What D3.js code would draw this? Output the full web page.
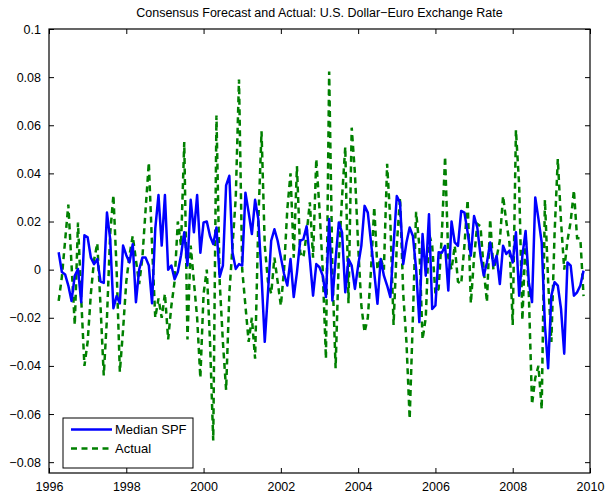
<!DOCTYPE html>
<html>
<head>
<meta charset="utf-8">
<script src="https://cdn.jsdelivr.net/npm/d3@7"></script>
<style>
  body { margin: 0; background: #fff; }
  svg text { font-family: "Liberation Sans", Arial, Helvetica, sans-serif; }
</style>
</head>
<body>
<svg id="chart"></svg>
<script>
// monthly observations, first one is April 1996
var startYear = 1996, startMonth = 4;

var spf = [
  0.0072, -0.001, -0.002, -0.0066, -0.013, -0.0025, 0.0003, -0.0135, 0.0143, 0.0134,
  0.005, 0.0023, 0.0044, -0.005, -0.0055, 0.0237, 0.0127, -0.016, -0.011, -0.014,
  0.01, 0.006, 0.003, 0.0106, -0.0135, 0.0, 0.005, 0.005, 0.0017, -0.014,
  0.017, 0.031, 0.01, 0.031, 0.0, 0.0017, -0.004, -0.001, 0.006, 0.0155,
  0.0017, 0.029, 0.0155, 0.031, 0.007, 0.0196, 0.020, 0.014, 0.0106, 0.0175,
  -0.003, 0.0017, 0.035, 0.039, 0.007, 0.0003, 0.0023, 0.0017, 0.032, 0.0237,
  0.0148, 0.029, 0.021, -0.0025, -0.030, -0.0094, 0.012, 0.0168, 0.012, 0.0051,
  -0.0018, -0.0066, 0.0044, -0.0114, -0.0011, 0.012, 0.0127, 0.018, 0.0044, -0.0108,
  0.0023, 0.001, -0.0025, -0.0114, 0.021, -0.0128, 0.0044, 0.0196, 0.0155, -0.0094,
  0.0044, 0.0017, -0.008, 0.0017, 0.01, 0.0265, 0.0237, 0.0113, -0.0011, -0.0142,
  0.0044, -0.0025, -0.0066, -0.0114, 0.01, 0.0306, 0.0279, 0.0023, 0.0113, 0.0175,
  0.014, 0.0003, -0.0218, 0.0148, -0.0025, 0.023, -0.0163, -0.0149, 0.0072, 0.007,
  0.0099, -0.0087, 0.020, 0.0113, 0.0099, 0.0244, 0.0237, 0.0155, 0.0058, 0.0223,
  0.0175, 0.0058, -0.0025, 0.003, 0.0113, 0.0017, 0.0058, -0.006, 0.0099, 0.0065,
  0.0079, 0.003, 0.0155, -0.0108, 0.0058, 0.0161, -0.0052, -0.0135, 0.030, 0.021,
  0.0113, -0.0232, -0.041, -0.0108, -0.0052, -0.0066, -0.0163, -0.0349, 0.003, 0.0017,
  -0.0108, -0.0094, -0.0066, -0.0004
];

var actual = [
  -0.013, -0.003, 0.012, 0.027, 0.002, -0.023, 0.0196, -0.012, -0.040, -0.030,
  -0.010, 0.004, 0.011, -0.015, -0.044, -0.020, 0.015, 0.031, 0.0, -0.0425,
  -0.025, -0.005, 0.006, 0.014, 0.004, -0.006, 0.005, 0.025, 0.0445, 0.010,
  -0.020, -0.012, -0.020, -0.010, -0.029, -0.015, -0.005, 0.020, 0.010, 0.053,
  -0.029, 0.010, -0.005, -0.020, -0.045, -0.010, 0.0, -0.030, -0.071, 0.064,
  -0.005, -0.030, -0.050, -0.010, 0.010, 0.030, 0.079, 0.0, -0.015, -0.030,
  -0.020, -0.037, 0.020, 0.0575, 0.010, -0.005, -0.010, 0.005, -0.005, -0.015,
  0.0, 0.025, 0.040, 0.005, 0.043, 0.007, 0.005, 0.015, 0.028, 0.005,
  0.046, 0.025, 0.0, -0.037, 0.0823, 0.0, -0.041, 0.005, 0.030, 0.051,
  -0.014, 0.059, 0.040, 0.010, -0.015, -0.026, -0.020, 0.0, 0.026, 0.0,
  0.005, 0.0, 0.044, 0.020, -0.023, 0.010, 0.030, -0.010, -0.030, -0.062,
  -0.020, 0.024, 0.010, -0.029, -0.020, 0.015, 0.010, -0.010, -0.008, 0.015,
  0.047, 0.005, 0.0, 0.010, -0.005, -0.006, 0.010, 0.029, -0.014, 0.005,
  0.019, 0.018, 0.0, -0.0135, 0.021, 0.0, 0.005, 0.012, 0.0306, 0.020,
  0.011, -0.023, 0.058, 0.035, -0.021, 0.014, -0.010, -0.056, -0.045, -0.040,
  -0.058, 0.029, -0.005, -0.030, 0.015, 0.046, 0.020, 0.0, 0.012, 0.020,
  0.033, 0.013, 0.013, -0.011
];

var xTicks = [1996, 1998, 2000, 2002, 2004, 2006, 2008, 2010];
var yTicks = [-0.08, -0.06, -0.04, -0.02, 0, 0.02, 0.04, 0.06, 0.08, 0.1];
var seriesNames = ["Median SPF", "Actual"];

var width = 605, height = 497;
var margin = { top: 29, right: 15, bottom: 24, left: 49 };
var plotW = width - margin.left - margin.right;
var plotH = height - margin.top - margin.bottom;

var svg = d3.select("#chart")
            .attr("width", width)
            .attr("height", height);

var x = d3.scaleLinear().domain([1996, 2010]).range([0, plotW]);
var y = d3.scaleLinear().domain([-0.0845, 0.1]).range([plotH, 0]);

var g = svg.append("g")
           .attr("transform", "translate(" + margin.left + "," + margin.top + ")");

function yearOf(i) { return startYear + (startMonth - 1) / 12 + i / 12; }

// axes, ticks point inward like matlab
var fmt = function (d) { return d === 0 ? "0" : d3.format("")(+d.toFixed(2)); };

var axBottom = g.append("g").attr("transform", "translate(0," + plotH + ")")
  .call(d3.axisBottom(x).tickValues(xTicks).tickFormat(d3.format("d")).tickSizeInner(-5).tickSizeOuter(0).tickPadding(9));
var axTop = g.append("g")
  .call(d3.axisTop(x).tickValues(xTicks).tickFormat("").tickSizeInner(-5).tickSizeOuter(0));
var axLeft = g.append("g")
  .call(d3.axisLeft(y).tickValues(yTicks).tickFormat(fmt).tickSizeInner(-5).tickSizeOuter(0).tickPadding(8));
var axRight = g.append("g").attr("transform", "translate(" + plotW + ",0)")
  .call(d3.axisRight(y).tickValues(yTicks).tickFormat("").tickSizeInner(-5).tickSizeOuter(0));

[axBottom, axTop, axLeft, axRight].forEach(function (a) {
  a.select(".domain").remove();
  a.selectAll("line").attr("stroke", "#000").attr("stroke-width", 1);
  a.selectAll("text").attr("fill", "#000").style("font-size", "12.5px");
});

g.append("rect")
 .attr("x", 0).attr("y", 0)
 .attr("width", plotW).attr("height", plotH)
 .attr("fill", "none").attr("stroke", "#000").attr("stroke-width", 1.2);

g.append("clipPath").attr("id", "clip")
 .append("rect").attr("width", plotW).attr("height", plotH);

var line = d3.line()
             .x(function (d, i) { return x(yearOf(i)); })
             .y(function (d) { return y(d); });

g.append("path")
 .datum(actual)
 .attr("clip-path", "url(#clip)")
 .attr("fill", "none")
 .attr("stroke", "#008000")
 .attr("stroke-width", 2.5)
 .attr("stroke-dasharray", "6,4.5")
 .attr("d", line);

g.append("path")
 .datum(spf)
 .attr("clip-path", "url(#clip)")
 .attr("fill", "none")
 .attr("stroke", "#0000ff")
 .attr("stroke-width", 2.5)
 .attr("stroke-linejoin", "round")
 .attr("d", line);

// title
svg.append("text")
   .attr("x", margin.left + plotW / 2)
   .attr("y", 17)
   .attr("text-anchor", "middle")
   .style("font-size", "12.5px")
   .text("Consensus Forecast and Actual: U.S. Dollar\u2212Euro Exchange Rate");

// legend
var legend = svg.append("g").attr("transform", "translate(63,418)");
legend.append("rect")
      .attr("width", 130).attr("height", 50)
      .attr("fill", "#fff").attr("stroke", "#000").attr("stroke-width", 1);
var colors = ["#0000ff", "#008000"];
var dashes = [null, "6,4.5"];
seriesNames.forEach(function (name, k) {
  var ly = 11.5 + k * 19;
  legend.append("line")
        .attr("x1", 8).attr("x2", 49)
        .attr("y1", ly).attr("y2", ly)
        .attr("stroke", colors[k])
        .attr("stroke-width", 2.5)
        .attr("stroke-dasharray", dashes[k]);
  legend.append("text")
        .attr("x", 52).attr("y", ly + 4.5)
        .style("font-size", "13px")
        .text(name);
});
</script>
</body>
</html>
